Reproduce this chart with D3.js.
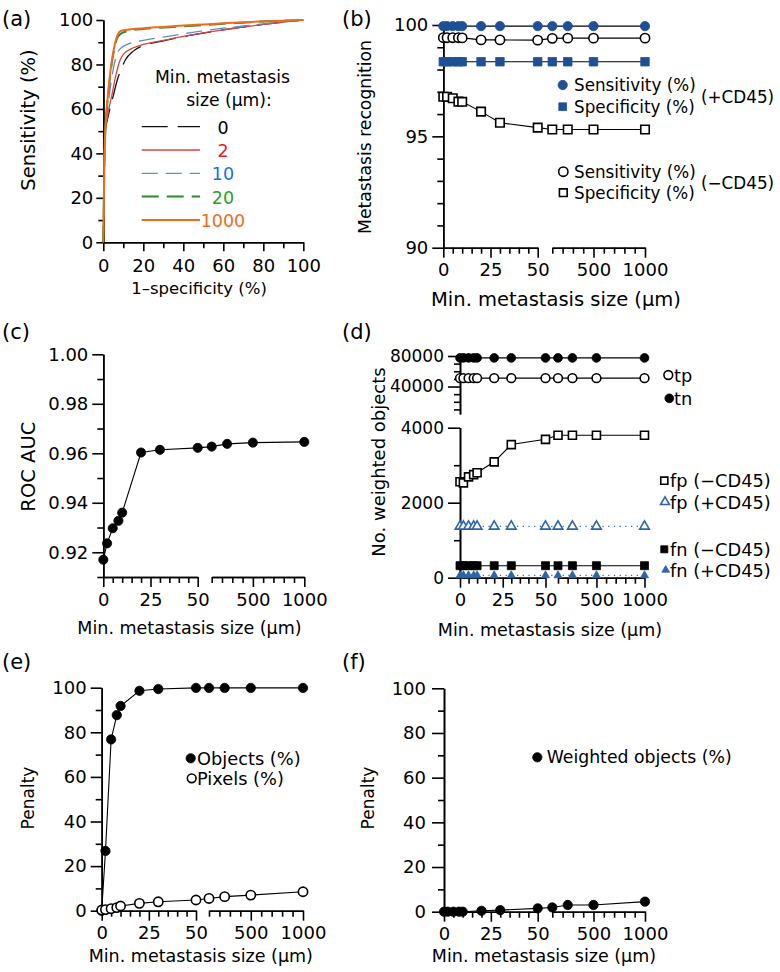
<!DOCTYPE html>
<html>
<head>
<meta charset="utf-8">
<script src="https://cdn.jsdelivr.net/npm/d3@7"></script>
<style>
  body { margin: 0; background: #fff; }
  text { font-family: "DejaVu Sans", sans-serif; }
</style>
</head>
<body>
<svg id="fig" width="780" height="972"></svg>
<script>
// ---- data ----
const sizes = [0, 2, 5, 8, 10, 20, 30, 50, 100, 250, 500, 1000]

// (a) ROC curves, [1-specificity, sensitivity]
const roc0 = [[0,0],[0.3,20],[0.6,40],[1,50],[2,55],[3,59],[5,66],[7,73],[9,78],[11,82],[15,86],[20,88.5],[30,90.6],[40,92.5],[50,94.1],[60,95.6],[70,96.8],[80,98],[90,99.1],[100,100]]
const roc2 = [[0,0],[0.3,20],[0.6,40],[1,50],[2,56],[3,61],[4,65],[6,74],[8,81],[10,84.5],[15,87.5],[20,89],[30,90.8],[40,92.6],[50,94.2],[60,95.6],[70,96.8],[80,98],[90,99.1],[100,100]]
const roc10 = [[0,0],[0.3,20],[0.6,40],[1,50],[2,58],[3,66],[5,78],[7,85],[9,87.5],[12,89],[20,90.8],[30,92.3],[40,93.8],[50,95.2],[60,96.3],[70,97.3],[80,98.3],[90,99.2],[100,100]]
const roc20 = [[0,0],[0.3,20],[0.6,40],[1,50],[1.5,57],[2.5,67],[4,79],[5.5,87],[7,92],[9,94],[12,95],[20,96],[30,96.6],[40,97.2],[50,97.7],[60,98.3],[70,98.8],[80,99.3],[90,99.7],[100,100]]
const roc1000 = [[0,0],[0.3,20],[0.6,40],[1,50],[1.5,58],[2.5,68],[4,80],[5.5,88],[7,93],[8.5,95],[12,95.6],[20,96.3],[30,96.9],[40,97.5],[50,98],[60,98.5],[70,99],[80,99.4],[90,99.7],[100,100]]
const rocLabels = ['0', '2', '10', '20', '1000']

// (b) metastasis recognition (%)
const sensPlus = [99.95, 99.95, 99.95, 99.95, 99.95, 99.95, 99.95, 99.95, 99.95, 99.95, 99.95, 99.95]
const specPlus = [98.35, 98.35, 98.35, 98.35, 98.35, 98.35, 98.35, 98.35, 98.35, 98.35, 98.35, 98.35]
const sensMinus = [99.43, 99.43, 99.43, 99.43, 99.42, 99.33, 99.33, 99.32, 99.4, 99.41, 99.41, 99.41]
const specMinus = [96.78, 96.78, 96.71, 96.56, 96.55, 96.11, 95.61, 95.39, 95.31, 95.31, 95.31, 95.31]

// (c) ROC AUC
const rocAuc = [0.917, 0.9236, 0.9297, 0.9327, 0.936, 0.9603, 0.9614, 0.9622, 0.9627, 0.9638, 0.9643, 0.9646]

// (d) weighted objects
const tn = [77500, 77500, 77500, 77500, 77500, 77500, 77500, 77500, 77500, 77500, 77500, 77500]
const tp = [51000, 51000, 51000, 51000, 51000, 51000, 51000, 51000, 51000, 51000, 51000, 51000]
const fpMinus = [2560, 2530, 2690, 2750, 2800, 3090, 3550, 3690, 3800, 3800, 3800, 3800]
const fpPlus = [1370, 1370, 1370, 1370, 1370, 1370, 1370, 1370, 1370, 1370, 1370, 1370]
const fnMinus = [320, 320, 320, 320, 320, 320, 320, 320, 320, 320, 320, 320]
const fnPlus = [60, 60, 60, 60, 60, 60, 60, 60, 60, 60, 60, 60]

// (e), (f) penalty (%)
const objects = [0, 26.8, 76.8, 87.7, 91.8, 98.6, 99.4, 99.9, 99.9, 99.9, 99.9, 99.9]
const pixels = [0.3, 0.5, 0.9, 1.4, 2.1, 3.3, 4.0, 4.8, 5.5, 6.3, 7.0, 8.5]
const weighted = [0, 0, 0, 0, 0, 0.4, 0.7, 1.5, 1.9, 3.0, 3.0, 4.5]

// ---- helpers ----
const svg = d3.select('#fig')
const blue = '#1e5096'
const triBlue = '#2b65a8'

/**
 * x scale with a break between 50 and 100
 */
function brokenScale(r) {
  const s1 = d3.scaleLinear().domain([0, 50]).range([r[0], r[1]])
  const s2 = d3.scaleLinear().domain([100, 1000]).range([r[2], r[3]])
  const f = v => (v <= 50 ? s1(v) : s2(v))
  f.s1 = s1
  f.s2 = s2
  return f
}

function styleAxis(sel, size) {
  sel.attr('font-family', '"DejaVu Sans", sans-serif').attr('font-size', size)
  sel.selectAll('path, line').attr('stroke', '#000').attr('stroke-width', 1.6)
  sel.selectAll('text').attr('fill', '#000')
}

function addAxis(g, axis, size) {
  g.append('g').call(axis).call(styleAxis, size)
}

function drawBrokenX(x, y0, size) {
  const g = svg.append('g').attr('transform', `translate(0,${y0})`)
  addAxis(g, d3.axisBottom(x.s1).tickValues([0, 25, 50]).tickSize(10).tickSizeOuter(0).tickPadding(6).tickFormat(d3.format('d')), size)
  addAxis(g, d3.axisBottom(x.s1).tickValues(d3.range(5, 50, 5).filter(v => v !== 25)).tickSize(6).tickSizeOuter(0).tickFormat(''), size)
  addAxis(g, d3.axisBottom(x.s2).tickValues([500, 1000]).tickSize(10).tickSizeOuter(0).tickPadding(6).tickFormat(d3.format('d')), size)
  addAxis(g, d3.axisBottom(x.s2).tickValues(d3.range(100, 1000, 100).filter(v => v !== 500)).tickSize(6).tickSizeOuter(0).tickFormat(''), size)
}

function drawY(x0, y, majors, minors, fmt, size, tick = 11, minorTick = 6, pad = 4) {
  const g = svg.append('g').attr('transform', `translate(${x0},0)`)
  addAxis(g, d3.axisLeft(y).tickValues(majors).tickSize(tick).tickSizeOuter(0).tickPadding(pad).tickFormat(fmt), size)
  addAxis(g, d3.axisLeft(y).tickValues(minors).tickSize(minorTick).tickSizeOuter(0).tickFormat(''), size)
}

function label(txt, x, y, size, opts = {}) {
  const t = svg.append('text')
    .attr('x', x).attr('y', y)
    .attr('font-size', size)
    .attr('fill', opts.fill || '#000')
    .attr('text-anchor', opts.anchor || 'start')
    .text(txt)
  if (opts.middle) t.attr('dominant-baseline', 'central')
  return t
}

function yLabel(txt, cx, cy, size) {
  svg.append('text')
    .attr('transform', `translate(${cx},${cy}) rotate(-90)`)
    .attr('text-anchor', 'middle')
    .attr('dominant-baseline', 'central')
    .attr('font-size', size)
    .text(txt)
}

function drawLine(vals, x, y, opts = {}) {
  const line = d3.line().x((d, i) => x(sizes[i])).y(d => y(d))
  svg.append('path')
    .datum(vals)
    .attr('d', line)
    .attr('fill', 'none')
    .attr('stroke', opts.stroke || '#000')
    .attr('stroke-width', opts.width || 1.1)
    .attr('stroke-dasharray', opts.dash || null)
}

function marker(g, type, filled, color, size) {
  const sym = {circle: d3.symbolCircle, square: d3.symbolSquare, triangle: d3.symbolTriangle}[type]
  return g.append('path')
    .attr('d', d3.symbol().type(sym).size(size)())
    .attr('fill', filled ? color : '#fff')
    .attr('stroke', color)
    .attr('stroke-width', filled ? 0.8 : 1.6)
}

function drawPoints(vals, x, y, type, filled, color, size) {
  vals.forEach((v, i) => {
    marker(svg, type, filled, color, size)
      .attr('transform', `translate(${x(sizes[i])},${y(v)})`)
  })
}

function legendItem(x, y, type, filled, color, size, txt, tx, fontSize) {
  marker(svg, type, filled, color, size).attr('transform', `translate(${x},${y})`)
  label(txt, tx, y, fontSize, {middle: true})
}

// ---- (a) ROC curves ----
const xA = d3.scaleLinear().domain([0, 100]).range([103.3, 303.3])
const yA = d3.scaleLinear().domain([0, 100]).range([242.3, 20])

const gAx = svg.append('g').attr('transform', 'translate(0,242.3)')
addAxis(gAx, d3.axisBottom(xA).tickValues(d3.range(0, 101, 20)).tickSize(9).tickSizeOuter(0).tickPadding(8), 18)
addAxis(gAx, d3.axisBottom(xA).tickValues(d3.range(10, 100, 20)).tickSize(6).tickSizeOuter(0).tickFormat(''), 18)
drawY(103.3, yA, d3.range(0, 101, 20), d3.range(10, 100, 20), d3.format('d'), 18, 7, 5, 3)

const rocSeries = [
  {data: roc0, stroke: '#111', text: '#000', dash: '26,10', width: 1.3},
  {data: roc2, stroke: '#d8453e', text: '#e8191f', dash: null, width: 1.3},
  {data: roc10, stroke: '#5b8fc9', text: '#1c6fd6', dash: '16,8', width: 1.3},
  {data: roc20, stroke: '#2b8a2b', text: '#2ca02c', dash: '17,8', width: 2},
  {data: roc1000, stroke: '#ee6c1e', text: '#ee6c1e', dash: null, width: 2}
]
const rocLine = d3.line().x(d => xA(d[0])).y(d => yA(d[1])).curve(d3.curveMonotoneX)
rocSeries.forEach(s => {
  svg.append('path').datum(s.data).attr('d', rocLine)
    .attr('fill', 'none').attr('stroke', s.stroke)
    .attr('stroke-width', s.width).attr('stroke-dasharray', s.dash)
})

label('Min. metastasis', 222.5, 83, 17.2, {anchor: 'middle'})
label('size (\u00b5m):', 229, 106, 17.2, {anchor: 'middle'})
rocSeries.forEach((s, i) => {
  const ly = 126.7 + i * 23.3
  svg.append('line').attr('x1', 141.7).attr('x2', 200).attr('y1', ly).attr('y2', ly)
    .attr('stroke', s.stroke).attr('stroke-width', s.width).attr('stroke-dasharray', s.dash)
  label(rocLabels[i], 223, ly + 1, 17.5, {anchor: 'middle', middle: true, fill: s.text})
})

yLabel('Sensitivity (%)', 28, 120, 19.5)
label('1\u2013specificity (%)', 199, 294, 16.5, {anchor: 'middle'})
label('(a)', 2, 26, 21)

// ---- (b) metastasis recognition ----
const xB = brokenScale([443.3, 537.7, 552.3, 645])
const yB = d3.scaleLinear().domain([90, 100]).range([247.7, 25])
drawY(443.3, yB, [90, 95, 100], d3.range(91, 100).filter(v => v !== 95), d3.format('d'), 18)
drawBrokenX(xB, 247.7, 18)

drawLine(specMinus, xB, yB)
drawLine(sensMinus, xB, yB)
drawLine(specPlus, xB, yB)
drawLine(sensPlus, xB, yB)
drawPoints(specMinus, xB, yB, 'square', false, '#000', 72)
drawPoints(sensMinus, xB, yB, 'circle', false, '#000', 68)
drawPoints(specPlus, xB, yB, 'square', true, blue, 72)
drawPoints(sensPlus, xB, yB, 'circle', true, blue, 68)

legendItem(562.7, 85, 'circle', true, blue, 68, 'Sensitivity (%)', 574, 16.8)
legendItem(562.7, 106.7, 'square', true, blue, 60, 'Specificity (%)', 574, 16.8)
label('(+CD45)', 701, 96.7, 16.8, {middle: true})
legendItem(563.3, 171.7, 'circle', false, '#000', 68, 'Sensitivity (%)', 574, 16.8)
legendItem(563.3, 192.7, 'square', false, '#000', 60, 'Specificity (%)', 574, 16.8)
label('(\u2212CD45)', 701, 183.3, 16.8, {middle: true})

yLabel('Metastasis recognition', 365, 137, 17.2)
label('Min. metastasis size (\u00b5m)', 556, 306, 19.5, {anchor: 'middle'})
label('(b)', 342, 26, 21)

// ---- (c) ROC AUC ----
const xC = brokenScale([103.3, 197.7, 211.7, 304.3])
const yC = d3.scaleLinear().domain([0.91, 1.0]).range([577, 354.3])
drawY(103.3, yC, [0.92, 0.94, 0.96, 0.98, 1.0], [0.91, 0.93, 0.95, 0.97, 0.99], d3.format('.2f'), 18)
drawBrokenX(xC, 577, 18)
drawLine(rocAuc, xC, yC)
drawPoints(rocAuc, xC, yC, 'circle', true, '#000', 66)

yLabel('ROC AUC', 28, 466.7, 19.5)
label('Min. metastasis size (\u00b5m)', 189.5, 634, 17.5, {anchor: 'middle'})
label('(c)', 2, 339, 21)

// ---- (d) weighted objects, broken y axis ----
const xD = brokenScale([460, 545.5, 558, 644.5])
const yDlow = d3.scaleLinear().domain([0, 4000]).range([577.7, 427.7])
const yDhigh = d3.scaleLinear().domain([4000, 80000]).range([414, 356])
drawY(460, yDlow, [0, 2000, 4000], [1000, 3000], d3.format('d'), 17, 12, 6, 4)
drawY(460, yDhigh, [40000, 80000], [10000, 20000, 30000, 50000, 60000, 70000], d3.format('d'), 17, 12, 6, 4)
drawBrokenX(xD, 577.7, 18)

drawLine(tn, xD, yDhigh)
drawLine(tp, xD, yDhigh)
drawLine(fpMinus, xD, yDlow)
drawLine(fpPlus, xD, yDlow, {stroke: triBlue, dash: '1.2,4.5', width: 1.2})
drawLine(fnMinus, xD, yDlow)
drawLine(fnPlus, xD, yDlow, {stroke: triBlue, dash: '1.2,4.5', width: 1.2})
drawPoints(tp, xD, yDhigh, 'circle', false, '#000', 60)
drawPoints(tn, xD, yDhigh, 'circle', true, '#000', 60)
drawPoints(fpMinus, xD, yDlow, 'square', false, '#000', 64)
drawPoints(fpPlus, xD, yDlow, 'triangle', false, triBlue, 40)
drawPoints(fnMinus, xD, yDlow, 'square', true, '#000', 64)
drawPoints(fnPlus, xD, yDlow, 'triangle', true, triBlue, 28)

legendItem(668.3, 375, 'circle', false, '#000', 60, 'tp', 674, 17.8)
legendItem(669.3, 398.3, 'circle', true, '#000', 60, 'tn', 674, 17.8)
legendItem(664.3, 480.7, 'square', false, '#000', 50, 'fp (\u2212CD45)', 670, 17.8)
legendItem(665, 502, 'triangle', false, triBlue, 34, 'fp (+CD45)', 670, 17.8)
legendItem(664.3, 549.3, 'square', true, '#000', 50, 'fn (\u2212CD45)', 670, 17.8)
legendItem(665.7, 570, 'triangle', true, triBlue, 26, 'fn (+CD45)', 670, 17.8)

yLabel('No. weighted objects', 378.3, 462, 18)
label('Min. metastasis size (\u00b5m)', 550, 636, 17.5, {anchor: 'middle'})
label('(d)', 342, 339, 21)

// ---- (e) penalty ----
const xE = brokenScale([101.7, 196, 209, 303])
const yE = d3.scaleLinear().domain([0, 100]).range([910.7, 687.7])
drawY(101.7, yE, d3.range(0, 101, 20), d3.range(10, 100, 20), d3.format('d'), 18)
drawBrokenX(xE, 910.7, 18)
drawLine(objects, xE, yE)
drawLine(pixels, xE, yE)
drawPoints(objects, xE, yE, 'circle', true, '#000', 68)
drawPoints(pixels, xE, yE, 'circle', false, '#000', 68)

legendItem(190.7, 758.3, 'circle', true, '#000', 68, 'Objects (%)', 197, 17.8)
legendItem(191.7, 778.3, 'circle', false, '#000', 60, 'Pixels (%)', 197, 17.8)

yLabel('Penalty', 28, 798, 17)
label('Min. metastasis size (\u00b5m)', 200.8, 962, 17.5, {anchor: 'middle'})
label('(e)', 2, 669, 21)

// ---- (f) penalty, weighted ----
const xF = brokenScale([444, 537.7, 552.3, 645])
const yF = d3.scaleLinear().domain([0, 100]).range([911.7, 688.3])
drawY(444, yF, d3.range(0, 101, 20), d3.range(10, 100, 20), d3.format('d'), 18, 12, 6, 6)
drawBrokenX(xF, 911.7, 18)
drawLine(weighted, xF, yF)
drawPoints(weighted, xF, yF, 'circle', true, '#000', 68)

legendItem(537.3, 757.3, 'circle', true, '#000', 68, 'Weighted objects (%)', 546.7, 17.3)

yLabel('Penalty', 368, 798, 17)
label('Min. metastasis size (\u00b5m)', 544, 962, 17.5, {anchor: 'middle'})
label('(f)', 342, 669, 21)
</script>
</body>
</html>
